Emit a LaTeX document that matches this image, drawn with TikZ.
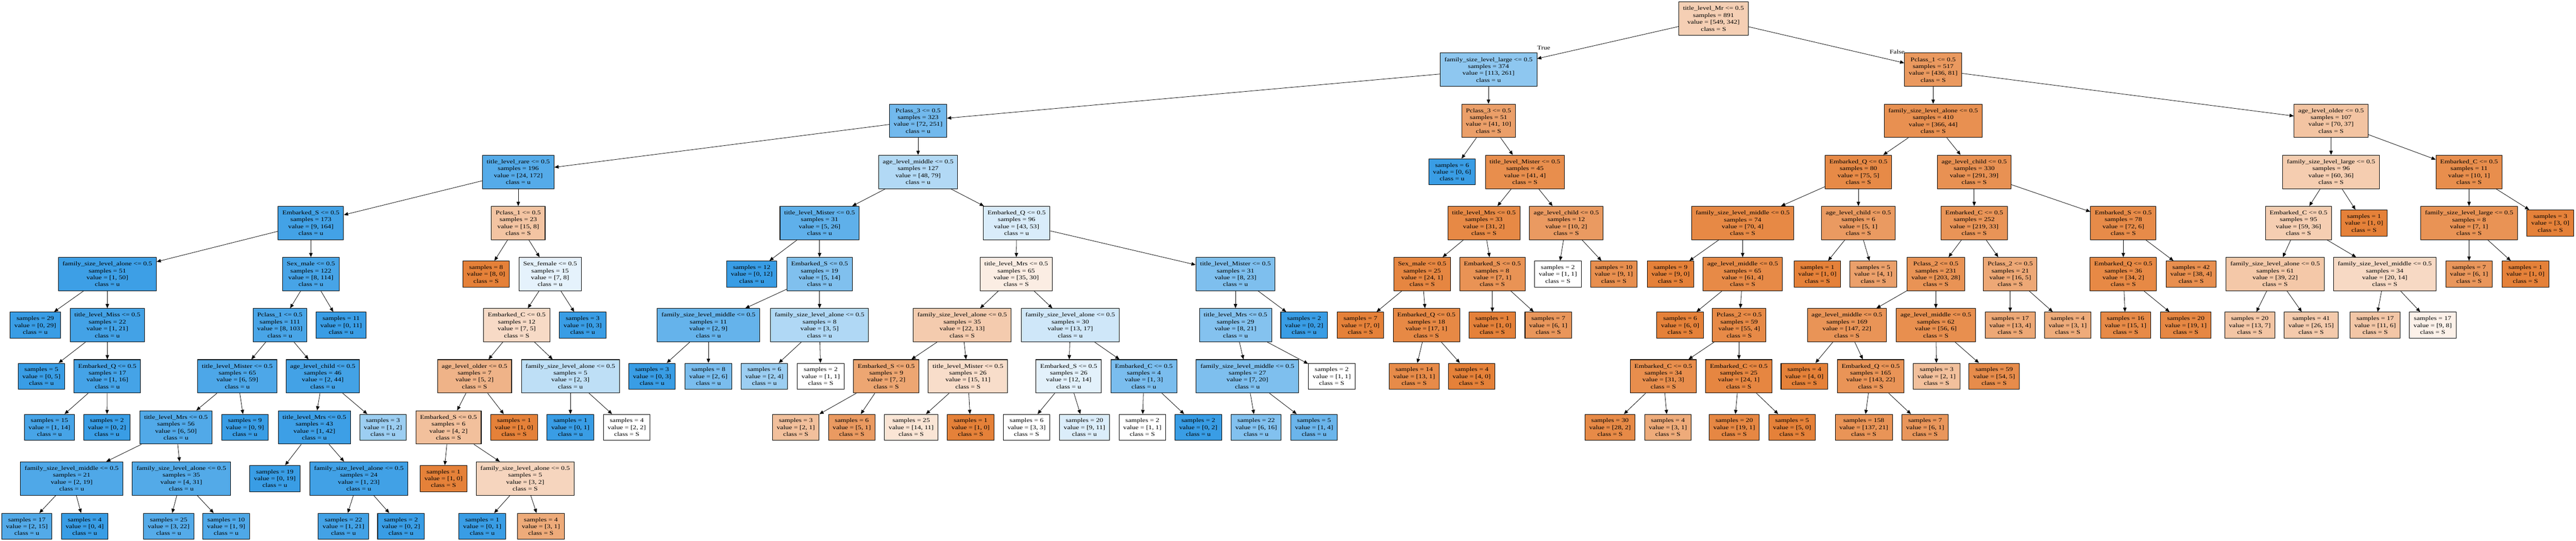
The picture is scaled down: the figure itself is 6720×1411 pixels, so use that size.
\documentclass[tikz,border=0pt]{standalone}
\usepackage{fontspec}
\setmainfont{Liberation Serif}[FakeStretch=1.23]
\usepackage{xcolor}
\usepackage{tikz}
\usetikzlibrary{arrows.meta}

\definecolor{clsS}{HTML}{E58139}
\definecolor{clsU}{HTML}{399DE5}
\newcommand{\treefont}{\fontsize{4.27pt}{5.12pt}\selectfont}

% fill strength from the two class counts
\tikzset{
  tone/.code 2 args={%
    \ifnum#1<#2\relax
      \pgfmathtruncatemacro\tonepct{round(100*((#2-#1)/#2))}%
      \edef\tonetmp{\noexpand\pgfkeysalso{fill=clsU!\tonepct}}%
    \else
      \pgfmathtruncatemacro\tonepct{round(100*((#1-#2)/#1))}%
      \edef\tonetmp{\noexpand\pgfkeysalso{fill=clsS!\tonepct}}%
    \fi
    \tonetmp
  }
}

\begin{document}
\begin{tikzpicture}[x=0.01cm, y=-0.01cm, >={Triangle[length=1.1mm, width=0.9mm]},
  split/.style={rectangle, draw, line width=0.4pt, inner xsep=1.1mm, inner ysep=0pt, minimum height=8.7mm, align=center, font=\treefont},
  leaf/.style={split, minimum height=6.8mm},
  link/.style={->, line width=0.3pt}]
\useasboundingbox (0,0) rectangle (6720,1411);

% root and first split
\node[split, tone={549}{342}] (n0) at (4470,48.5) {title\_level\_Mr <= 0.5\\samples = 891\\value = [549, 342]\\class = S};
\node[split, tone={113}{261}] (n1) at (3883,181.8) {family\_size\_level\_large <= 0.5\\samples = 374\\value = [113, 261]\\class = u};
\node[split, tone={436}{81}] (n94) at (5043,181.8) {Pclass\_1 <= 0.5\\samples = 517\\value = [436, 81]\\class = S};
\node[font=\treefont] (ltrue) at (4027,125) {True};
\node[font=\treefont] (lfalse) at (4949,135) {False};

% True side
\node[split, tone={72}{251}] (n2) at (2395,315.1) {Pclass\_3 <= 0.5\\samples = 323\\value = [72, 251]\\class = u};
\node[split, tone={24}{172}] (n3) at (1352,448.4) {title\_level\_rare <= 0.5\\samples = 196\\value = [24, 172]\\class = u};
\node[split, tone={9}{164}] (n4) at (811,581.7) {Embarked\_S <= 0.5\\samples = 173\\value = [9, 164]\\class = u};
\node[split, tone={1}{50}] (n5) at (280,715) {family\_size\_level\_alone <= 0.5\\samples = 51\\value = [1, 50]\\class = u};
\node[leaf, tone={0}{29}] (n6) at (92,848.3) {samples = 29\\value = [0, 29]\\class = u};
\node[split, tone={1}{21}] (n7) at (280,848.3) {title\_level\_Miss <= 0.5\\samples = 22\\value = [1, 21]\\class = u};
\node[leaf, tone={0}{5}] (n8) at (108,981.6) {samples = 5\\value = [0, 5]\\class = u};
\node[split, tone={1}{16}] (n9) at (280,981.6) {Embarked\_Q <= 0.5\\samples = 17\\value = [1, 16]\\class = u};
\node[leaf, tone={1}{14}] (n10) at (129,1114.9) {samples = 15\\value = [1, 14]\\class = u};
\node[leaf, tone={0}{2}] (n11) at (279,1114.9) {samples = 2\\value = [0, 2]\\class = u};
\node[split, tone={8}{114}] (n12) at (811,715) {Sex\_male <= 0.5\\samples = 122\\value = [8, 114]\\class = u};
\node[split, tone={8}{103}] (n13) at (730,848.3) {Pclass\_1 <= 0.5\\samples = 111\\value = [8, 103]\\class = u};
\node[split, tone={6}{59}] (n14) at (619,981.6) {title\_level\_Mister <= 0.5\\samples = 65\\value = [6, 59]\\class = u};
\node[split, tone={6}{50}] (n15) at (459,1114.9) {title\_level\_Mrs <= 0.5\\samples = 56\\value = [6, 50]\\class = u};
\node[split, tone={2}{19}] (n16) at (187,1248.2) {family\_size\_level\_middle <= 0.5\\samples = 21\\value = [2, 19]\\class = u};
\node[leaf, tone={2}{15}] (n17) at (70,1373) {samples = 17\\value = [2, 15]\\class = u};
\node[leaf, tone={0}{4}] (n18) at (221,1373) {samples = 4\\value = [0, 4]\\class = u};
\node[split, tone={4}{31}] (n19) at (473,1248.2) {family\_size\_level\_alone <= 0.5\\samples = 35\\value = [4, 31]\\class = u};
\node[leaf, tone={3}{22}] (n20) at (440,1373) {samples = 25\\value = [3, 22]\\class = u};
\node[leaf, tone={1}{9}] (n21) at (590,1373) {samples = 10\\value = [1, 9]\\class = u};
\node[leaf, tone={0}{9}] (n22) at (639,1114.9) {samples = 9\\value = [0, 9]\\class = u};
\node[split, tone={2}{44}] (n23) at (842,981.6) {age\_level\_child <= 0.5\\samples = 46\\value = [2, 44]\\class = u};
\node[split, tone={1}{42}] (n24) at (820,1114.9) {title\_level\_Mrs <= 0.5\\samples = 43\\value = [1, 42]\\class = u};
\node[leaf, tone={0}{19}] (n25) at (717,1248.2) {samples = 19\\value = [0, 19]\\class = u};
\node[split, tone={1}{23}] (n26) at (936,1248.2) {family\_size\_level\_alone <= 0.5\\samples = 24\\value = [1, 23]\\class = u};
\node[leaf, tone={1}{21}] (n27) at (896,1373) {samples = 22\\value = [1, 21]\\class = u};
\node[leaf, tone={0}{2}] (n28) at (1046,1373) {samples = 2\\value = [0, 2]\\class = u};
\node[leaf, tone={1}{2}] (n29) at (999,1114.9) {samples = 3\\value = [1, 2]\\class = u};
\node[leaf, tone={0}{11}] (n30) at (890,848.3) {samples = 11\\value = [0, 11]\\class = u};
\node[split, tone={15}{8}] (n31) at (1352,581.7) {Pclass\_1 <= 0.5\\samples = 23\\value = [15, 8]\\class = S};
\node[leaf, tone={8}{0}] (n32) at (1268,715) {samples = 8\\value = [8, 0]\\class = S};
\node[split, tone={7}{8}] (n33) at (1435,715) {Sex\_female <= 0.5\\samples = 15\\value = [7, 8]\\class = u};
\node[split, tone={7}{5}] (n34) at (1348,848.3) {Embarked\_C <= 0.5\\samples = 12\\value = [7, 5]\\class = S};
\node[split, tone={5}{2}] (n35) at (1238,981.6) {age\_level\_older <= 0.5\\samples = 7\\value = [5, 2]\\class = S};
\node[split, tone={4}{2}] (n36) at (1170,1114.9) {Embarked\_S <= 0.5\\samples = 6\\value = [4, 2]\\class = S};
\node[leaf, tone={1}{0}] (n37) at (1157,1248.2) {samples = 1\\value = [1, 0]\\class = S};
\node[split, tone={3}{2}] (n38) at (1370,1248.2) {family\_size\_level\_alone <= 0.5\\samples = 5\\value = [3, 2]\\class = S};
\node[leaf, tone={0}{1}] (n39) at (1258,1373) {samples = 1\\value = [0, 1]\\class = u};
\node[leaf, tone={3}{1}] (n40) at (1411,1373) {samples = 4\\value = [3, 1]\\class = S};
\node[leaf, tone={1}{0}] (n41) at (1341,1114.9) {samples = 1\\value = [1, 0]\\class = S};
\node[split, tone={2}{3}] (n42) at (1488,981.6) {family\_size\_level\_alone <= 0.5\\samples = 5\\value = [2, 3]\\class = u};
\node[leaf, tone={0}{1}] (n43) at (1488,1114.9) {samples = 1\\value = [0, 1]\\class = u};
\node[leaf, tone={2}{2}] (n44) at (1635,1114.9) {samples = 4\\value = [2, 2]\\class = S};
\node[leaf, tone={0}{3}] (n45) at (1520,848.3) {samples = 3\\value = [0, 3]\\class = u};
\node[split, tone={48}{79}] (n46) at (2395,448.4) {age\_level\_middle <= 0.5\\samples = 127\\value = [48, 79]\\class = u};
\node[split, tone={5}{26}] (n47) at (2138,581.7) {title\_level\_Mister <= 0.5\\samples = 31\\value = [5, 26]\\class = u};
\node[leaf, tone={0}{12}] (n48) at (1961,715) {samples = 12\\value = [0, 12]\\class = u};
\node[split, tone={5}{14}] (n49) at (2138,715) {Embarked\_S <= 0.5\\samples = 19\\value = [5, 14]\\class = u};
\node[split, tone={2}{9}] (n50) at (1848,848.3) {family\_size\_level\_middle <= 0.5\\samples = 11\\value = [2, 9]\\class = u};
\node[leaf, tone={0}{3}] (n51) at (1701,981.6) {samples = 3\\value = [0, 3]\\class = u};
\node[leaf, tone={2}{6}] (n52) at (1848,981.6) {samples = 8\\value = [2, 6]\\class = u};
\node[split, tone={3}{5}] (n53) at (2138,848.3) {family\_size\_level\_alone <= 0.5\\samples = 8\\value = [3, 5]\\class = u};
\node[leaf, tone={2}{4}] (n54) at (1994,981.6) {samples = 6\\value = [2, 4]\\class = u};
\node[leaf, tone={1}{1}] (n55) at (2141,981.6) {samples = 2\\value = [1, 1]\\class = S};
\node[split, tone={43}{53}] (n56) at (2652,581.7) {Embarked\_Q <= 0.5\\samples = 96\\value = [43, 53]\\class = u};
\node[split, tone={35}{30}] (n57) at (2651,715) {title\_level\_Mrs <= 0.5\\samples = 65\\value = [35, 30]\\class = S};
\node[split, tone={22}{13}] (n58) at (2510,848.3) {family\_size\_level\_alone <= 0.5\\samples = 35\\value = [22, 13]\\class = S};
\node[split, tone={7}{2}] (n59) at (2312,981.6) {Embarked\_S <= 0.5\\samples = 9\\value = [7, 2]\\class = S};
\node[leaf, tone={2}{1}] (n60) at (2076,1114.9) {samples = 3\\value = [2, 1]\\class = S};
\node[leaf, tone={5}{1}] (n61) at (2222,1114.9) {samples = 6\\value = [5, 1]\\class = S};
\node[split, tone={15}{11}] (n62) at (2525,981.6) {title\_level\_Mister <= 0.5\\samples = 26\\value = [15, 11]\\class = S};
\node[leaf, tone={14}{11}] (n63) at (2377,1114.9) {samples = 25\\value = [14, 11]\\class = S};
\node[leaf, tone={1}{0}] (n64) at (2532,1114.9) {samples = 1\\value = [1, 0]\\class = S};
\node[split, tone={13}{17}] (n65) at (2792,848.3) {family\_size\_level\_alone <= 0.5\\samples = 30\\value = [13, 17]\\class = u};
\node[split, tone={12}{14}] (n66) at (2788,981.6) {Embarked\_S <= 0.5\\samples = 26\\value = [12, 14]\\class = u};
\node[leaf, tone={3}{3}] (n67) at (2678,1114.9) {samples = 6\\value = [3, 3]\\class = S};
\node[leaf, tone={9}{11}] (n68) at (2829,1114.9) {samples = 20\\value = [9, 11]\\class = u};
\node[split, tone={1}{3}] (n69) at (2984,981.6) {Embarked\_C <= 0.5\\samples = 4\\value = [1, 3]\\class = u};
\node[leaf, tone={1}{1}] (n70) at (2980,1114.9) {samples = 2\\value = [1, 1]\\class = S};
\node[leaf, tone={0}{2}] (n71) at (3126,1114.9) {samples = 2\\value = [0, 2]\\class = u};
\node[split, tone={8}{23}] (n72) at (3223,715) {title\_level\_Mister <= 0.5\\samples = 31\\value = [8, 23]\\class = u};
\node[split, tone={8}{21}] (n73) at (3223,848.3) {title\_level\_Mrs <= 0.5\\samples = 29\\value = [8, 21]\\class = u};
\node[split, tone={7}{20}] (n74) at (3254,981.6) {family\_size\_level\_middle <= 0.5\\samples = 27\\value = [7, 20]\\class = u};
\node[leaf, tone={6}{16}] (n75) at (3277,1114.9) {samples = 22\\value = [6, 16]\\class = u};
\node[leaf, tone={1}{4}] (n76) at (3428,1114.9) {samples = 5\\value = [1, 4]\\class = u};
\node[leaf, tone={1}{1}] (n77) at (3474,981.6) {samples = 2\\value = [1, 1]\\class = S};
\node[leaf, tone={0}{2}] (n78) at (3402,848.3) {samples = 2\\value = [0, 2]\\class = u};
\node[split, tone={41}{10}] (n79) at (3883,315.1) {Pclass\_3 <= 0.5\\samples = 51\\value = [41, 10]\\class = S};
\node[leaf, tone={0}{6}] (n80) at (3788,448.4) {samples = 6\\value = [0, 6]\\class = u};
\node[split, tone={41}{4}] (n81) at (3978,448.4) {title\_level\_Mister <= 0.5\\samples = 45\\value = [41, 4]\\class = S};
\node[split, tone={31}{2}] (n82) at (3871,581.7) {title\_level\_Mrs <= 0.5\\samples = 33\\value = [31, 2]\\class = S};
\node[split, tone={24}{1}] (n83) at (3710,715) {Sex\_male <= 0.5\\samples = 25\\value = [24, 1]\\class = S};
\node[leaf, tone={7}{0}] (n84) at (3549,848.3) {samples = 7\\value = [7, 0]\\class = S};
\node[split, tone={17}{1}] (n85) at (3721,848.3) {Embarked\_Q <= 0.5\\samples = 18\\value = [17, 1]\\class = S};
\node[leaf, tone={13}{1}] (n86) at (3689,981.6) {samples = 14\\value = [13, 1]\\class = S};
\node[leaf, tone={4}{0}] (n87) at (3839,981.6) {samples = 4\\value = [4, 0]\\class = S};
\node[split, tone={7}{1}] (n88) at (3893,715) {Embarked\_S <= 0.5\\samples = 8\\value = [7, 1]\\class = S};
\node[leaf, tone={1}{0}] (n89) at (3893,848.3) {samples = 1\\value = [1, 0]\\class = S};
\node[leaf, tone={6}{1}] (n90) at (4039,848.3) {samples = 7\\value = [6, 1]\\class = S};
\node[split, tone={10}{2}] (n91) at (4086,581.7) {age\_level\_child <= 0.5\\samples = 12\\value = [10, 2]\\class = S};
\node[leaf, tone={1}{1}] (n92) at (4064,715) {samples = 2\\value = [1, 1]\\class = S};
\node[leaf, tone={9}{1}] (n93) at (4210,715) {samples = 10\\value = [9, 1]\\class = S};

% False side
\node[split, tone={366}{44}] (n95) at (5043,315.1) {family\_size\_level\_alone <= 0.5\\samples = 410\\value = [366, 44]\\class = S};
\node[split, tone={75}{5}] (n96) at (4848,448.4) {Embarked\_Q <= 0.5\\samples = 80\\value = [75, 5]\\class = S};
\node[split, tone={70}{4}] (n97) at (4546,581.7) {family\_size\_level\_middle <= 0.5\\samples = 74\\value = [70, 4]\\class = S};
\node[leaf, tone={9}{0}] (n98) at (4358,715) {samples = 9\\value = [9, 0]\\class = S};
\node[split, tone={61}{4}] (n99) at (4546,715) {age\_level\_middle <= 0.5\\samples = 65\\value = [61, 4]\\class = S};
\node[leaf, tone={6}{0}] (n100) at (4383,848.3) {samples = 6\\value = [6, 0]\\class = S};
\node[split, tone={55}{4}] (n101) at (4537,848.3) {Pclass\_2 <= 0.5\\samples = 59\\value = [55, 4]\\class = S};
\node[split, tone={31}{3}] (n102) at (4339,981.6) {Embarked\_C <= 0.5\\samples = 34\\value = [31, 3]\\class = S};
\node[leaf, tone={28}{2}] (n103) at (4200,1114.9) {samples = 30\\value = [28, 2]\\class = S};
\node[leaf, tone={3}{1}] (n104) at (4351,1114.9) {samples = 4\\value = [3, 1]\\class = S};
\node[split, tone={24}{1}] (n105) at (4536,981.6) {Embarked\_C <= 0.5\\samples = 25\\value = [24, 1]\\class = S};
\node[leaf, tone={19}{1}] (n106) at (4524,1114.9) {samples = 20\\value = [19, 1]\\class = S};
\node[leaf, tone={5}{0}] (n107) at (4675,1114.9) {samples = 5\\value = [5, 0]\\class = S};
\node[split, tone={5}{1}] (n108) at (4848,581.7) {age\_level\_child <= 0.5\\samples = 6\\value = [5, 1]\\class = S};
\node[leaf, tone={1}{0}] (n109) at (4741,715) {samples = 1\\value = [1, 0]\\class = S};
\node[leaf, tone={4}{1}] (n110) at (4887,715) {samples = 5\\value = [4, 1]\\class = S};
\node[split, tone={291}{39}] (n111) at (5150,448.4) {age\_level\_child <= 0.5\\samples = 330\\value = [291, 39]\\class = S};
\node[split, tone={219}{33}] (n112) at (5150,581.7) {Embarked\_C <= 0.5\\samples = 252\\value = [219, 33]\\class = S};
\node[split, tone={203}{28}] (n113) at (5050,715) {Pclass\_2 <= 0.5\\samples = 231\\value = [203, 28]\\class = S};
\node[split, tone={147}{22}] (n114) at (4818,848.3) {age\_level\_middle <= 0.5\\samples = 169\\value = [147, 22]\\class = S};
\node[leaf, tone={4}{0}] (n115) at (4707,981.6) {samples = 4\\value = [4, 0]\\class = S};
\node[split, tone={143}{22}] (n116) at (4880,981.6) {Embarked\_Q <= 0.5\\samples = 165\\value = [143, 22]\\class = S};
\node[leaf, tone={137}{21}] (n117) at (4862,1114.9) {samples = 158\\value = [137, 21]\\class = S};
\node[leaf, tone={6}{1}] (n118) at (5022,1114.9) {samples = 7\\value = [6, 1]\\class = S};
\node[split, tone={56}{6}] (n119) at (5050,848.3) {age\_level\_middle <= 0.5\\samples = 62\\value = [56, 6]\\class = S};
\node[leaf, tone={2}{1}] (n120) at (5052,981.6) {samples = 3\\value = [2, 1]\\class = S};
\node[leaf, tone={54}{5}] (n121) at (5202,981.6) {samples = 59\\value = [54, 5]\\class = S};
\node[split, tone={16}{5}] (n122) at (5244,715) {Pclass\_2 <= 0.5\\samples = 21\\value = [16, 5]\\class = S};
\node[leaf, tone={13}{4}] (n123) at (5244,848.3) {samples = 17\\value = [13, 4]\\class = S};
\node[leaf, tone={3}{1}] (n124) at (5394,848.3) {samples = 4\\value = [3, 1]\\class = S};
\node[split, tone={72}{6}] (n125) at (5539,581.7) {Embarked\_S <= 0.5\\samples = 78\\value = [72, 6]\\class = S};
\node[split, tone={34}{2}] (n126) at (5539,715) {Embarked\_Q <= 0.5\\samples = 36\\value = [34, 2]\\class = S};
\node[leaf, tone={15}{1}] (n127) at (5545,848.3) {samples = 16\\value = [15, 1]\\class = S};
\node[leaf, tone={19}{1}] (n128) at (5702,848.3) {samples = 20\\value = [19, 1]\\class = S};
\node[leaf, tone={38}{4}] (n129) at (5716,715) {samples = 42\\value = [38, 4]\\class = S};
\node[split, tone={70}{37}] (n130) at (6081,315.1) {age\_level\_older <= 0.5\\samples = 107\\value = [70, 37]\\class = S};
\node[split, tone={60}{36}] (n131) at (6081,448.4) {family\_size\_level\_large <= 0.5\\samples = 96\\value = [60, 36]\\class = S};
\node[split, tone={59}{36}] (n132) at (5996,581.7) {Embarked\_C <= 0.5\\samples = 95\\value = [59, 36]\\class = S};
\node[split, tone={39}{22}] (n133) at (5935,715) {family\_size\_level\_alone <= 0.5\\samples = 61\\value = [39, 22]\\class = S};
\node[leaf, tone={13}{7}] (n134) at (5869,848.3) {samples = 20\\value = [13, 7]\\class = S};
\node[leaf, tone={26}{15}] (n135) at (6029,848.3) {samples = 41\\value = [26, 15]\\class = S};
\node[split, tone={20}{14}] (n136) at (6221,715) {family\_size\_level\_middle <= 0.5\\samples = 34\\value = [20, 14]\\class = S};
\node[leaf, tone={11}{6}] (n137) at (6196,848.3) {samples = 17\\value = [11, 6]\\class = S};
\node[leaf, tone={9}{8}] (n138) at (6346,848.3) {samples = 17\\value = [9, 8]\\class = S};
\node[leaf, tone={1}{0}] (n139) at (6167,581.7) {samples = 1\\value = [1, 0]\\class = S};
\node[split, tone={10}{1}] (n140) at (6441,448.4) {Embarked\_C <= 0.5\\samples = 11\\value = [10, 1]\\class = S};
\node[split, tone={7}{1}] (n141) at (6441,581.7) {family\_size\_level\_large <= 0.5\\samples = 8\\value = [7, 1]\\class = S};
\node[leaf, tone={6}{1}] (n142) at (6441,715) {samples = 7\\value = [6, 1]\\class = S};
\node[leaf, tone={1}{0}] (n143) at (6588,715) {samples = 1\\value = [1, 0]\\class = S};
\node[leaf, tone={3}{0}] (n144) at (6653,581.7) {samples = 3\\value = [3, 0]\\class = S};

% connectors
\draw[link] (n0) -- (n1);
\draw[link] (n0) -- (n94);
\draw[link] (n1) -- (n2);
\draw[link] (n1) -- (n79);
\draw[link] (n2) -- (n3);
\draw[link] (n2) -- (n46);
\draw[link] (n3) -- (n4);
\draw[link] (n3) -- (n31);
\draw[link] (n4) -- (n5);
\draw[link] (n4) -- (n12);
\draw[link] (n5) -- (n6);
\draw[link] (n5) -- (n7);
\draw[link] (n7) -- (n8);
\draw[link] (n7) -- (n9);
\draw[link] (n9) -- (n10);
\draw[link] (n9) -- (n11);
\draw[link] (n12) -- (n13);
\draw[link] (n12) -- (n30);
\draw[link] (n13) -- (n14);
\draw[link] (n13) -- (n23);
\draw[link] (n14) -- (n15);
\draw[link] (n14) -- (n22);
\draw[link] (n15) -- (n16);
\draw[link] (n15) -- (n19);
\draw[link] (n16) -- (n17);
\draw[link] (n16) -- (n18);
\draw[link] (n19) -- (n20);
\draw[link] (n19) -- (n21);
\draw[link] (n23) -- (n24);
\draw[link] (n23) -- (n29);
\draw[link] (n24) -- (n25);
\draw[link] (n24) -- (n26);
\draw[link] (n26) -- (n27);
\draw[link] (n26) -- (n28);
\draw[link] (n31) -- (n32);
\draw[link] (n31) -- (n33);
\draw[link] (n33) -- (n34);
\draw[link] (n33) -- (n45);
\draw[link] (n34) -- (n35);
\draw[link] (n34) -- (n42);
\draw[link] (n35) -- (n36);
\draw[link] (n35) -- (n41);
\draw[link] (n36) -- (n37);
\draw[link] (n36) -- (n38);
\draw[link] (n38) -- (n39);
\draw[link] (n38) -- (n40);
\draw[link] (n42) -- (n43);
\draw[link] (n42) -- (n44);
\draw[link] (n46) -- (n47);
\draw[link] (n46) -- (n56);
\draw[link] (n47) -- (n48);
\draw[link] (n47) -- (n49);
\draw[link] (n49) -- (n50);
\draw[link] (n49) -- (n53);
\draw[link] (n50) -- (n51);
\draw[link] (n50) -- (n52);
\draw[link] (n53) -- (n54);
\draw[link] (n53) -- (n55);
\draw[link] (n56) -- (n57);
\draw[link] (n56) -- (n72);
\draw[link] (n57) -- (n58);
\draw[link] (n57) -- (n65);
\draw[link] (n58) -- (n59);
\draw[link] (n58) -- (n62);
\draw[link] (n59) -- (n60);
\draw[link] (n59) -- (n61);
\draw[link] (n62) -- (n63);
\draw[link] (n62) -- (n64);
\draw[link] (n65) -- (n66);
\draw[link] (n65) -- (n69);
\draw[link] (n66) -- (n67);
\draw[link] (n66) -- (n68);
\draw[link] (n69) -- (n70);
\draw[link] (n69) -- (n71);
\draw[link] (n72) -- (n73);
\draw[link] (n72) -- (n78);
\draw[link] (n73) -- (n74);
\draw[link] (n73) -- (n77);
\draw[link] (n74) -- (n75);
\draw[link] (n74) -- (n76);
\draw[link] (n79) -- (n80);
\draw[link] (n79) -- (n81);
\draw[link] (n81) -- (n82);
\draw[link] (n81) -- (n91);
\draw[link] (n82) -- (n83);
\draw[link] (n82) -- (n88);
\draw[link] (n83) -- (n84);
\draw[link] (n83) -- (n85);
\draw[link] (n85) -- (n86);
\draw[link] (n85) -- (n87);
\draw[link] (n88) -- (n89);
\draw[link] (n88) -- (n90);
\draw[link] (n91) -- (n92);
\draw[link] (n91) -- (n93);
\draw[link] (n94) -- (n95);
\draw[link] (n94) -- (n130);
\draw[link] (n95) -- (n96);
\draw[link] (n95) -- (n111);
\draw[link] (n96) -- (n97);
\draw[link] (n96) -- (n108);
\draw[link] (n97) -- (n98);
\draw[link] (n97) -- (n99);
\draw[link] (n99) -- (n100);
\draw[link] (n99) -- (n101);
\draw[link] (n101) -- (n102);
\draw[link] (n101) -- (n105);
\draw[link] (n102) -- (n103);
\draw[link] (n102) -- (n104);
\draw[link] (n105) -- (n106);
\draw[link] (n105) -- (n107);
\draw[link] (n108) -- (n109);
\draw[link] (n108) -- (n110);
\draw[link] (n111) -- (n112);
\draw[link] (n111) -- (n125);
\draw[link] (n112) -- (n113);
\draw[link] (n112) -- (n122);
\draw[link] (n113) -- (n114);
\draw[link] (n113) -- (n119);
\draw[link] (n114) -- (n115);
\draw[link] (n114) -- (n116);
\draw[link] (n116) -- (n117);
\draw[link] (n116) -- (n118);
\draw[link] (n119) -- (n120);
\draw[link] (n119) -- (n121);
\draw[link] (n122) -- (n123);
\draw[link] (n122) -- (n124);
\draw[link] (n125) -- (n126);
\draw[link] (n125) -- (n129);
\draw[link] (n126) -- (n127);
\draw[link] (n126) -- (n128);
\draw[link] (n130) -- (n131);
\draw[link] (n130) -- (n140);
\draw[link] (n131) -- (n132);
\draw[link] (n131) -- (n139);
\draw[link] (n132) -- (n133);
\draw[link] (n132) -- (n136);
\draw[link] (n133) -- (n134);
\draw[link] (n133) -- (n135);
\draw[link] (n136) -- (n137);
\draw[link] (n136) -- (n138);
\draw[link] (n140) -- (n141);
\draw[link] (n140) -- (n144);
\draw[link] (n141) -- (n142);
\draw[link] (n141) -- (n143);
\end{tikzpicture}
\end{document}
